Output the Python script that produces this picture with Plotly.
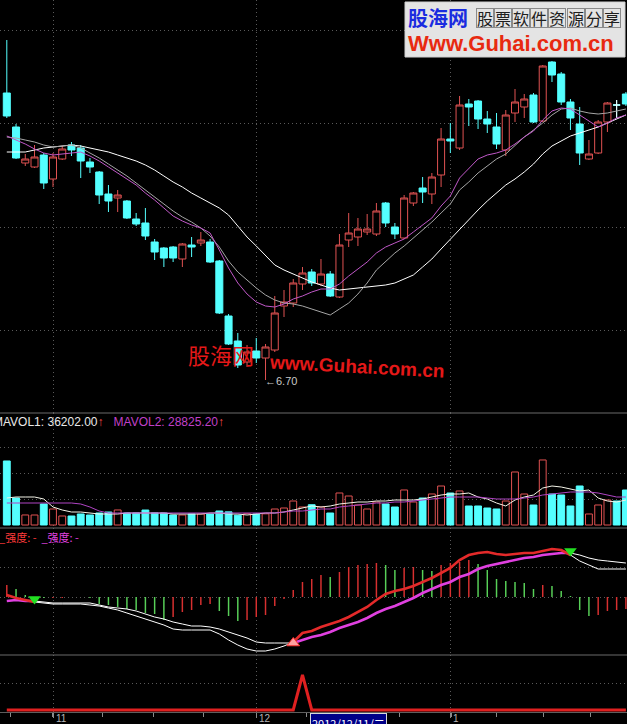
import datetime as dt
import plotly.graph_objects as go

W, H = 627, 724

# ---- trading sessions -------------------------------------------------------
session_days = {
    (2012, 10): [25, 26, 29, 30, 31],
    (2012, 11): [1, 2, 5, 6, 7, 8, 9, 12, 13, 14, 15, 16, 19, 20, 21, 22, 23,
                 26, 27, 28, 29, 30],
    (2012, 12): [3, 4, 5, 6, 7, 10, 11, 12, 13, 14, 17, 18, 19, 20, 21, 24, 25,
                 26, 27, 28, 31],
    (2013, 1): [4, 7, 8, 9, 10, 11, 14, 15, 16, 17, 18, 21, 22, 23, 24, 25, 28,
                29, 30, 31],
}
dates = [dt.date(y, m, d) for (y, m), days in session_days.items() for d in days]
cursor_date = dt.date(2012, 12, 11)

# ---- daily prices -----------------------------------------------------------
open_ = [9.57, 9.23, 8.87, 8.83, 8.95, 8.71, 8.91, 9.05, 9.02, 8.88,
         8.78, 8.56, 8.52, 8.49, 8.31, 8.27, 8.08, 8.02, 8.03, 7.91,
         8.05, 8.07, 8.08, 7.89, 7.34, 7.09, 6.88, 6.99, 6.92, 7.00,
         7.44, 7.47, 7.66, 7.78, 7.66, 7.76, 7.53, 8.10, 8.13, 8.18,
         8.16, 8.47, 8.23, 8.12, 8.47, 8.62, 8.56, 8.75, 9.11, 9.02,
         9.46, 9.49, 9.31, 9.23, 9.00, 9.37, 9.43, 9.55, 9.29, 9.88,
         9.76, 9.48, 9.26, 8.91, 8.97, 9.28, 9.45, 9.56]
high = [10.10, 9.26, 8.96, 9.05, 8.97, 8.97, 9.04, 9.08, 9.05, 8.92,
        8.79, 8.65, 8.60, 8.50, 8.37, 8.42, 8.11, 8.03, 8.04, 8.07,
        8.13, 8.18, 8.11, 7.90, 7.36, 7.17, 7.05, 7.12, 7.06, 7.54,
        7.60, 7.71, 7.83, 7.81, 7.91, 7.79, 8.16, 8.37, 8.32, 8.36,
        8.47, 8.48, 8.27, 8.55, 8.58, 8.73, 8.77, 9.22, 9.27, 9.54,
        9.51, 9.50, 9.39, 9.37, 9.40, 9.61, 9.56, 9.57, 9.85, 9.89,
        9.78, 9.51, 9.43, 9.10, 9.30, 9.48, 9.50, 9.58]
low = [9.32, 8.91, 8.84, 8.82, 8.61, 8.63, 8.90, 8.94, 8.72, 8.77,
       8.46, 8.38, 8.38, 8.31, 8.24, 8.10, 7.90, 7.83, 7.88, 7.83,
       7.93, 8.04, 7.87, 7.36, 7.05, 6.82, 6.83, 6.87, 6.70, 6.98,
       7.33, 7.43, 7.60, 7.64, 7.64, 7.53, 7.52, 8.03, 8.04, 8.15,
       8.14, 8.23, 8.11, 8.11, 8.44, 8.47, 8.46, 8.63, 8.97, 9.00,
       9.24, 9.21, 9.17, 9.01, 8.94, 9.28, 9.32, 9.27, 9.28, 9.68,
       9.45, 9.20, 8.85, 8.90, 8.96, 9.18, 9.32, 9.44]
close = [9.34, 8.92, 8.91, 8.93, 8.67, 8.93, 9.01, 9.00, 8.89, 8.83,
         8.55, 8.49, 8.55, 8.32, 8.26, 8.14, 7.98, 7.92, 7.92, 8.06,
         8.03, 8.10, 7.88, 7.37, 7.06, 6.85, 6.98, 6.92, 7.03, 7.37,
         7.48, 7.67, 7.77, 7.67, 7.76, 7.54, 8.05, 8.17, 8.21, 8.21,
         8.39, 8.27, 8.16, 8.52, 8.57, 8.58, 8.73, 9.11, 9.09, 9.45,
         9.43, 9.31, 9.26, 9.06, 9.35, 9.48, 9.51, 9.28, 9.84, 9.75,
         9.48, 9.32, 8.97, 8.96, 9.28, 9.47, 9.45, 9.46]

# price moving averages
ma_short = [9.14, 9.10, 9.06, 9.01, 8.97, 8.95, 8.96, 8.97, 8.98, 8.94,
            8.89, 8.83, 8.77, 8.71, 8.65, 8.57, 8.50, 8.42, 8.34, 8.29,
            8.25, 8.22, 8.17, 8.00, 7.82, 7.67, 7.56, 7.48, 7.44, 7.43,
            7.46, 7.51, 7.54, 7.58, 7.61, 7.61, 7.66, 7.74, 7.81, 7.88,
            7.97, 8.03, 8.07, 8.11, 8.18, 8.25, 8.32, 8.44, 8.54, 8.72,
            8.82, 8.91, 8.95, 8.97, 9.00, 9.06, 9.13, 9.19, 9.30, 9.39,
            9.42, 9.41, 9.35, 9.29, 9.23, 9.27, 9.32, 9.35]
ma_mid = [9.13, 9.12, 9.10, 9.08, 9.05, 9.03, 9.04, 9.05, 9.02, 8.97,
          8.92, 8.86, 8.80, 8.74, 8.67, 8.60, 8.53, 8.46, 8.39, 8.33,
          8.28, 8.22, 8.14, 8.03, 7.89, 7.78, 7.70, 7.62, 7.55, 7.50,
          7.47, 7.46, 7.44, 7.41, 7.38, 7.35, 7.41, 7.47, 7.56, 7.67,
          7.80, 7.89, 7.97, 8.04, 8.12, 8.20, 8.28, 8.37, 8.46, 8.60,
          8.68, 8.77, 8.84, 8.91, 8.96, 9.05, 9.13, 9.20, 9.27, 9.35,
          9.41, 9.42, 9.39, 9.37, 9.36, 9.37, 9.39, 9.41]
ma_long = [8.98, 8.98, 8.98, 9.00, 9.02, 9.03, 9.04, 9.05, 9.04, 9.02,
           9.00, 8.98, 8.95, 8.92, 8.89, 8.85, 8.80, 8.74, 8.68, 8.63,
           8.57, 8.52, 8.47, 8.42, 8.35, 8.24, 8.13, 8.04, 7.94, 7.85,
           7.80, 7.76, 7.72, 7.68, 7.65, 7.62, 7.60, 7.61, 7.62, 7.63,
           7.64, 7.65, 7.67, 7.71, 7.75, 7.83, 7.91, 8.01, 8.11, 8.21,
           8.31, 8.40, 8.49, 8.57, 8.65, 8.71, 8.78, 8.86, 8.96, 9.04,
           9.09, 9.14, 9.17, 9.20, 9.23, 9.27, 9.31, 9.35]

# ---- volume -----------------------------------------------------------------
volume = [121634, 51288, 19040, 18972, 39917, 30386, 17126, 17098, 20915, 19003,
          22812, 24695, 28530, 22788, 22806, 28470, 22834, 22761, 19012, 18990,
          20935, 20874, 20908, 26612, 25000, 18600, 21500, 20900, 21242,
          30400, 32300, 45600, 34200, 38510,
          34215, 22790, 60812, 55087, 38024, 30411, 43690, 39925, 34182, 66530,
          43716, 51290, 58933, 74105, 60788, 64630, 36094, 36120, 32287, 30415,
          45620, 100718, 58905, 37986, 123540, 58872, 57010, 36085, 74122, 20910,
          38015, 47488, 45630, 66512]
mavol1 = [51300, 53200, 53200, 53200, 49400, 34200, 28500, 24700, 24700, 22800,
          20900, 20900, 20900, 22800, 22800, 22800, 22800, 22800, 20900, 20900,
          20900, 20900, 22800, 22800, 20900, 20900, 19000, 20900, 22800, 22800,
          24700, 28500, 32300, 36202.00, 34200, 36100, 39900, 41800, 43700, 43700,
          45600, 45600, 47500, 47500, 47500, 49400, 53200, 57000, 58900, 58900,
          60800, 53200, 49400, 41800, 36100, 47500, 53200, 57000, 70300, 74100,
          72200, 68400, 64600, 66500, 51300, 45600, 43700, 47500]
mavol2 = [41800, 41800, 41800, 41800, 41800, 41800, 41800, 41800, 39900, 34200,
          26600, 22800, 22800, 22800, 22800, 22800, 22800, 22800, 22800, 22800,
          22800, 22800, 22800, 22800, 22800, 22800, 22800, 22800, 22800, 22800,
          24700, 26600, 26600, 28825.20, 30400, 30400, 34200, 36100, 38000, 39900,
          41800, 41800, 43700, 43700, 45600, 47500, 49400, 51300, 53200, 53200,
          53200, 53200, 51300, 49400, 49400, 49400, 51300, 53200, 57000, 58900,
          60800, 62700, 62700, 62700, 60800, 57000, 53200, 53200]

# ---- strength indicator -----------------------------------------------------
strength_fast = [2, -1, -3, -5, -6, -7, -7, -7, -7, -8,
                 -9, -11, -13, -16, -19, -22, -25, -28, -32, -33,
                 -33, -33, -33, -37, -43, -48, -52, -54, -54, -52,
                 -49, -45, -36, -34, -30, -27, -24, -20, -15, -10,
                 -3, 3, 6, 8, 11, 15, 19, 24, 29, 37,
                 42, 44, 45, 43, 42, 43, 44, 44, 46, 48,
                 47, 42, 36, 32, 28, 28, 28, 28]
strength_slow = [-4, -3, -4, -4, -5, -6, -6, -6, -6, -6,
                 -8, -10, -11, -12, -14, -17, -20, -22, -25, -27,
                 -29, -29, -30, -32, -35, -38, -41, -45, -46, -46,
                 -46, -46, -43, -40, -38, -35, -31, -28, -25, -21,
                 -16, -12, -9, -5, -1, 4, 8, 12, 15, 20,
                 23, 28, 31, 33, 35, 37, 39, 40, 42, 43,
                 44, 44, 42, 39, 37, 36, 35, 34]
strength_bar = [12, 8, 2, 0, -1, -1, -1, 0, 0, -1,
                -7, -8, -10, -12, -13, -16, -17, -23, -20, -15,
                -13, -8, -7, -14, -19, -24, -23, -20, -18, -9,
                -2, 7, 15, 18, 22, 20, 25, 30, 32, 33,
                34, 32, 27, 29, 30, 27, 26, 32, 34, 35,
                37, 33, 27, 18, 16, 15, 14, 8, 12, 11,
                6, 1, -13, -19, -18, -14, -13, -12]

# ---- entry signal -----------------------------------------------------------
signal = [0, 0, 0, 0, 0, 0, 0, 0, 0, 0,
          0, 0, 0, 0, 0, 0, 0, 0, 0, 0,
          0, 0, 0, 0, 0, 0, 0, 0, 0, 0,
          0, 0, 1, 0, 0, 0, 0, 0, 0, 0,
          0, 0, 0, 0, 0, 0, 0, 0, 0, 0,
          0, 0, 0, 0, 0, 0, 0, 0, 0, 0,
          0, 0, 0, 0, 0, 0, 0, 0]

# axis tick marks along the date strip (bar positions)
date_marks = [0.35, 4.92, 10.33, 15.85, 21.34, 27.04, 32.38, 37.5, 42.55,
              48.15, 53.02, 58.06, 63.12]

# ---- styling ----------------------------------------------------------------
UP = '#e05252'
DOWN = '#54ffff'
BG = '#000000'
GRID = '#5a5a5a'
DASH = '1px,3px'
TXT = 'Liberation Sans, Arial, sans-serif'
CJK = 'Noto Sans CJK SC, sans-serif'


def py(px):
    return 1 - px / H


def pxx(px):
    return px / W


n = len(dates)
x = list(range(n))
is_up = [c > o for o, c in zip(open_, close)]
cur = dates.index(cursor_date)

fig = go.Figure()

# main price panel
fig.add_trace(go.Candlestick(
    x=x, open=open_, high=high, low=low, close=close,
    increasing=dict(line=dict(color=UP, width=1), fillcolor=BG),
    decreasing=dict(line=dict(color=DOWN, width=1), fillcolor=DOWN),
    whiskerwidth=0, hoverinfo='skip', xaxis='x', yaxis='y'))

doji_x, doji_y = [], []
for i in x:
    if open_[i] == close[i]:
        doji_x += [i, i, None, i - 0.37, i + 0.37, None]
        doji_y += [high[i], low[i], None, open_[i], open_[i], None]
fig.add_trace(go.Scatter(x=doji_x, y=doji_y, mode='lines',
                         line=dict(color='#ffffff', width=1),
                         hoverinfo='skip', xaxis='x', yaxis='y'))

for vals, color in ((ma_long, '#ffffff'), (ma_mid, '#a6a6a6'),
                    (ma_short, '#c058c8')):
    fig.add_trace(go.Scatter(x=x, y=vals, mode='lines',
                             line=dict(color=color, width=1),
                             hoverinfo='skip', xaxis='x', yaxis='y'))

# volume panel
fig.add_trace(go.Bar(
    x=x, y=volume, width=0.74,
    marker=dict(color=[BG if u else DOWN for u in is_up],
                line=dict(color=[UP if u else DOWN for u in is_up], width=1)),
    hoverinfo='skip', xaxis='x', yaxis='y2'))
fig.add_trace(go.Scatter(x=x, y=mavol1, mode='lines',
                         line=dict(color='#f4f4e8', width=1),
                         hoverinfo='skip', xaxis='x', yaxis='y2'))
fig.add_trace(go.Scatter(x=x, y=mavol2, mode='lines',
                         line=dict(color='#b044c4', width=1),
                         hoverinfo='skip', xaxis='x', yaxis='y2'))

# strength panel
bar_colors = ['#d83030' if i == 0 or strength_bar[i] >= strength_bar[i - 1]
              else '#58d058' for i in x]
fig.add_trace(go.Bar(x=x, y=strength_bar, width=0.16,
                     marker=dict(color=bar_colors, line=dict(width=0)),
                     hoverinfo='skip', xaxis='x', yaxis='y3'))

strong = [a >= b for a, b in zip(strength_fast, strength_slow)]
weak = [not s for s in strong]


def segment(vals, keep):
    return [v if keep[i] or (i > 0 and keep[i - 1]) else None
            for i, v in enumerate(vals)]


for vals in (strength_slow, strength_fast):
    fig.add_trace(go.Scatter(x=x, y=segment(vals, weak), mode='lines',
                             line=dict(color='#ffffff', width=1),
                             connectgaps=False, hoverinfo='skip',
                             xaxis='x', yaxis='y3'))
fig.add_trace(go.Scatter(x=x, y=segment(strength_slow, strong), mode='lines',
                         line=dict(color='#e040e0', width=2.6),
                         connectgaps=False, hoverinfo='skip',
                         xaxis='x', yaxis='y3'))
fig.add_trace(go.Scatter(x=x, y=segment(strength_fast, strong), mode='lines',
                         line=dict(color='#e42a2a', width=2.6),
                         connectgaps=False, hoverinfo='skip',
                         xaxis='x', yaxis='y3'))

turn_down = [i for i in range(1, n) if strong[i - 1] and not strong[i]]
turn_up = [i for i in range(1, n) if not strong[i - 1] and strong[i]]
fig.add_trace(go.Scatter(
    x=turn_down, y=[max(strength_fast[i], strength_slow[i]) + 2 for i in turn_down],
    mode='markers', marker=dict(symbol='triangle-down', size=11, color='#22e022'),
    hoverinfo='skip', xaxis='x', yaxis='y3'))
fig.add_trace(go.Scatter(
    x=turn_up, y=[strength_fast[i] - 1 for i in turn_up],
    mode='markers',
    marker=dict(symbol='triangle-up', size=11, color='#ffa0a0',
                line=dict(color='#ff3030', width=1)),
    hoverinfo='skip', xaxis='x', yaxis='y3'))

# signal panel
fig.add_trace(go.Scatter(x=x, y=signal, mode='lines',
                         line=dict(color='#e02020', width=3),
                         hoverinfo='skip', xaxis='x', yaxis='y4'))

# ---- axes -------------------------------------------------------------------
month_starts = [i for i in range(1, n) if dates[i].month != dates[i - 1].month]

ycommon = dict(showline=False, zeroline=False, showticklabels=False, ticks='',
               showgrid=True, gridcolor=GRID, griddash=DASH, gridwidth=1,
               tickmode='array', anchor='x', fixedrange=True)

fig.update_layout(
    width=W, height=H, margin=dict(l=0, r=0, t=0, b=0),
    paper_bgcolor=BG, plot_bgcolor=BG, showlegend=False, hovermode=False,
    barmode='overlay', boxgap=0.24, boxgroupgap=0,
    font=dict(family=TXT, color='#c0c0c0', size=11),
    xaxis=dict(domain=[0, 1], range=[-0.736, 67.12], anchor='y4',
               tickmode='array', tickvals=month_starts, showgrid=True,
               gridcolor=GRID, griddash=DASH, gridwidth=1,
               ticks='outside', ticklen=5, tickcolor='#8a8a8a',
               showticklabels=False, showline=True, linecolor='#5e5e5e',
               zeroline=False, fixedrange=True,
               minor=dict(tickmode='array', tickvals=date_marks, ticks='outside',
                          ticklen=4, tickcolor='#8a8a8a', showgrid=False),
               rangeslider=dict(visible=False)),
    yaxis=dict(domain=[py(413), 1], range=[6.37, 10.50],
               tickvals=[10.20, 9.27, 8.23, 7.20], **ycommon),
    yaxis2=dict(domain=[py(528), py(413)], range=[-5700, 212800],
                tickvals=[148200, 98800, 49400], **ycommon),
    yaxis3=dict(domain=[py(655), py(528)], range=[-58, 69],
                tickvals=[30, 0], **ycommon),
    yaxis4=dict(domain=[py(712), py(655)], range=[-2 / 35, 55 / 35],
                tickvals=[27 / 35], **ycommon),
)

# panel separators
for sep in (413, 528, 655):
    fig.add_shape(type='line', xref='paper', yref='paper', x0=0, x1=1,
                  y0=py(sep), y1=py(sep), line=dict(color='#6a6a6a', width=1))

ann = []

# lowest price marker
lo = low.index(min(low))
ann.append(dict(x=lo, y=low[lo], xref='x', yref='y', xanchor='left',
                yanchor='middle', xshift=-3, yshift=-1,
                text=f'←{low[lo]:.2f}', showarrow=False,
                font=dict(size=11, color='#c8c8c8', family=TXT)))

# volume panel caption
ann.append(dict(
    x=pxx(-9), y=py(422), xref='paper', yref='paper', xanchor='left',
    yanchor='middle', showarrow=False, font=dict(size=12, family=TXT, color='#e8e8e8'),
    text=(f'MAVOL1: {mavol1[cur]:.2f}<span style="color:#ff4a4a">↑</span>'
          f'   <span style="color:#c040c8">MAVOL2: {mavol2[cur]:.2f}</span>'
          f'<span style="color:#ff4a4a">↑</span>')))

# strength panel caption
ann.append(dict(
    x=pxx(-3), y=py(537), xref='paper', yref='paper', xanchor='left',
    yanchor='middle', showarrow=False, font=dict(size=11, family=CJK),
    text=('<span style="color:#ff3a3a">_强度: -</span>  '
          '<span style="color:#e040e0">_强度: -</span>')))

# month labels on the date strip
for m in month_starts:
    ann.append(dict(x=m, y=py(711), xref='x', yref='paper', xanchor='left',
                    yanchor='top', xshift=1, showarrow=False,
                    text=str(dates[m].month),
                    font=dict(size=10, color='#b4b4b4', family=TXT)))

# cursor date box
wd = '一二三四五六日'[cursor_date.weekday()]
ann.append(dict(x=cur, y=py(713), xref='x', yref='paper', xanchor='left',
                yanchor='top', xshift=-2, showarrow=False,
                text=f'{cursor_date.year}/{cursor_date.month}/{cursor_date.day}/{wd}',
                bgcolor='#000088', bordercolor='#d8d8d8', borderwidth=1,
                borderpad=1, font=dict(size=11, color='#ffffff', family=CJK)))

# site banner (top right)
fig.add_shape(type='rect', xref='paper', yref='paper',
              x0=pxx(405), x1=pxx(625), y0=py(57), y1=py(2),
              fillcolor='#e4e4e4', line=dict(color='#cfcfcf', width=1))
ann.append(dict(x=pxx(406), y=py(17), xref='paper', yref='paper',
                xanchor='left', yanchor='middle', showarrow=False,
                text='<b>股海网</b>',
                font=dict(size=20, color='#1a2ce0', family=CJK)))
for k, ch in enumerate('股票软件资源分享'):
    ann.append(dict(x=pxx(485 + 18.1 * k), y=py(18), xref='paper', yref='paper',
                    xanchor='center', yanchor='middle', showarrow=False,
                    text=ch, width=16, height=18, borderpad=0,
                    bordercolor='#8a8a8a', borderwidth=1,
                    font=dict(size=16, color='#202020', family=CJK)))
ann.append(dict(x=pxx(406), y=py(44), xref='paper', yref='paper',
                xanchor='left', yanchor='middle', showarrow=False,
                text='<b>Www.Guhai.com.cn</b>',
                font=dict(size=22, color='#e82a10', family=TXT)))

# site mark over the price panel
ann.append(dict(x=pxx(186), y=py(354), xref='paper', yref='paper',
                xanchor='left', yanchor='middle', showarrow=False,
                text='股海网', font=dict(size=22, color='#e41818', family=CJK)))
ann.append(dict(x=pxx(357), y=py(366), xref='paper', yref='paper',
                xanchor='center', yanchor='middle', showarrow=False,
                textangle=3, text='<b>www.Guhai.com.cn</b>',
                font=dict(size=19, color='#e41818', family=TXT)))

fig.update_layout(annotations=ann)

fig.write_html('out.html', include_plotlyjs=True,
               config={'displayModeBar': False, 'staticPlot': True})
